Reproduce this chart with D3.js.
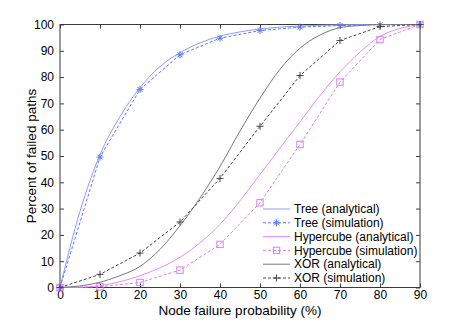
<!DOCTYPE html>
<html>
<head>
<meta charset="utf-8">
<script src="https://cdn.jsdelivr.net/npm/d3@7"></script>
<style>
  body { margin: 0; background: #fff; }
  svg { font-family: "Liberation Sans", Arial, sans-serif; }
</style>
</head>
<body>
<div id="chart"></div>
<script>
// node failure probability (%)
const probSim = [0, 10, 20, 30, 40, 50, 60, 70, 80, 90];
const probAna = [0, 5, 10, 15, 20, 25, 30, 35, 40, 45, 50, 55, 60, 65, 70, 75, 80, 85, 90];

// percent of failed paths
const treeAna = [0, 29, 50.5, 65, 76, 84, 89.3, 93, 95.6, 97.2, 98.3, 99, 99.4, 99.7, 99.85, 99.95, 100, 100, 100];
const treeSim = [0, 49.6, 75.3, 88.5, 94.8, 97.7, 99.0, 99.6, 99.9, 100];
const hyperAna = [0, 0.1, 0.7, 2.2, 4.5, 7.5, 11.5, 17, 24, 33, 43, 53, 63, 73, 82, 89.5, 95.5, 98.5, 100];
const hyperSim = [0, 0.3, 1.9, 6.6, 16.4, 32.2, 54.4, 78.1, 94.3, 100];
const xorAna = [0, 0.6, 2, 4.5, 8, 14.5, 23.5, 34, 46, 59.5, 72, 83, 91, 96, 98.8, 99.6, 100, 100, 100];
const xorSim = [0, 5.0, 13.1, 24.9, 41.5, 61.3, 80.6, 93.9, 99.2, 100];

const xTicks = [0, 10, 20, 30, 40, 50, 60, 70, 80, 90];
const yTicks = [0, 10, 20, 30, 40, 50, 60, 70, 80, 90, 100];

const series = [
  {name: 'Tree (analytical)', x: probAna, y: treeAna, color: '#8c9cff', dash: null, marker: null, curve: d3.curveMonotoneX},
  {name: 'Tree (simulation)', x: probSim, y: treeSim, color: '#5d78ff', dash: '3,2', marker: 'star', curve: d3.curveLinear},
  {name: 'Hypercube (analytical)', x: probAna, y: hyperAna, color: '#e58cff', dash: null, marker: null, curve: d3.curveMonotoneX},
  {name: 'Hypercube (simulation)', x: probSim, y: hyperSim, color: '#dc7cf8', dash: '3,2', marker: 'square', curve: d3.curveLinear},
  {name: 'XOR (analytical)', x: probAna, y: xorAna, color: '#7a7a7a', dash: null, marker: null, curve: d3.curveMonotoneX},
  {name: 'XOR (simulation)', x: probSim, y: xorSim, color: '#444444', dash: '3,2', marker: 'plus', curve: d3.curveLinear}
];

const margin = {top: 24.5, right: 44, bottom: 36.5, left: 60};
const W = 464, H = 324;
const width = W - margin.left - margin.right;
const height = H - margin.top - margin.bottom;

const svg = d3.select('#chart').append('svg')
  .attr('width', W).attr('height', H);
const g = svg.append('g')
  .attr('transform', `translate(${margin.left},${margin.top})`);

const x = d3.scaleLinear().domain([0, 90]).range([0, width]);
const y = d3.scaleLinear().domain([0, 100]).range([height, 0]);

const axisColor = '#3a3a3a';

// box
g.append('rect')
  .attr('width', width).attr('height', height)
  .attr('fill', 'none').attr('stroke', axisColor).attr('stroke-width', 1);

// axes with inward ticks
function styleAxis(sel) {
  sel.select('.domain').remove();
  sel.selectAll('.tick line').attr('stroke', axisColor);
  sel.selectAll('.tick text').attr('fill', '#000').style('font-size', '12px')
    .style('font-family', '"Liberation Sans", Arial, sans-serif');
}
g.append('g').attr('transform', `translate(0,${height})`)
  .call(d3.axisBottom(x).tickValues(xTicks).tickSize(-4).tickPadding(3))
  .call(styleAxis);
g.append('g')
  .call(d3.axisTop(x).tickValues(xTicks).tickSize(-4).tickFormat(''))
  .call(styleAxis);
g.append('g')
  .call(d3.axisLeft(y).tickValues(yTicks).tickSize(-4).tickPadding(6))
  .call(styleAxis);
g.append('g').attr('transform', `translate(${width},0)`)
  .call(d3.axisRight(y).tickValues(yTicks).tickSize(-4).tickFormat(''))
  .call(styleAxis);

function drawMarker(sel, type, cx, cy, color) {
  const s = 3.5;
  if (type === 'star') {
    sel.append('path')
      .attr('d', `M${cx - s},${cy}L${cx + s},${cy}M${cx},${cy - s}L${cx},${cy + s}` +
        `M${cx - s * 0.7},${cy - s * 0.7}L${cx + s * 0.7},${cy + s * 0.7}` +
        `M${cx - s * 0.7},${cy + s * 0.7}L${cx + s * 0.7},${cy - s * 0.7}`)
      .attr('stroke', color).attr('stroke-width', 1).attr('fill', 'none');
  } else if (type === 'plus') {
    sel.append('path')
      .attr('d', `M${cx - s},${cy}L${cx + s},${cy}M${cx},${cy - s}L${cx},${cy + s}`)
      .attr('stroke', color).attr('stroke-width', 1).attr('fill', 'none');
  } else if (type === 'square') {
    sel.append('rect')
      .attr('x', cx - 3.2).attr('y', cy - 3.2).attr('width', 6.4).attr('height', 6.4)
      .attr('stroke', color).attr('stroke-width', 1).attr('fill', 'none');
  }
}

const plot = g.append('g');
series.forEach(s => {
  const pts = s.x.map((v, i) => [v, s.y[i]]);
  const line = d3.line().x(d => x(d[0])).y(d => y(d[1])).curve(s.curve);
  plot.append('path')
    .datum(pts)
    .attr('d', line)
    .attr('fill', 'none')
    .attr('stroke', s.color)
    .attr('stroke-width', 1)
    .attr('stroke-dasharray', s.dash);
  if (s.marker) {
    pts.forEach(d => drawMarker(plot, s.marker, x(d[0]), y(d[1]), s.color));
  }
});

// legend
const legend = g.append('g').attr('transform', `translate(${263 - margin.left},${209 - margin.top})`);
series.forEach((s, i) => {
  const row = legend.append('g').attr('transform', `translate(0,${i * 13.8})`);
  row.append('line')
    .attr('x1', 0).attr('x2', 27).attr('y1', 0).attr('y2', 0)
    .attr('stroke', s.color).attr('stroke-width', 1)
    .attr('stroke-dasharray', s.dash);
  if (s.marker) drawMarker(row, s.marker, 13.5, 0, s.color);
  row.append('text')
    .attr('x', 31).attr('y', 0).attr('dy', '0.35em')
    .style('font-size', '12px')
    .text(s.name);
});

// axis labels
svg.append('text')
  .attr('x', margin.left + width / 2).attr('y', 314.5)
  .style('text-anchor', 'middle').style('font-size', '13.5px')
  .text('Node failure probability (%)');
svg.append('text')
  .attr('transform', `translate(36,${margin.top + height / 2}) rotate(-90)`)
  .style('text-anchor', 'middle').style('font-size', '13.5px')
  .text('Percent of failed paths');
</script>
</body>
</html>
